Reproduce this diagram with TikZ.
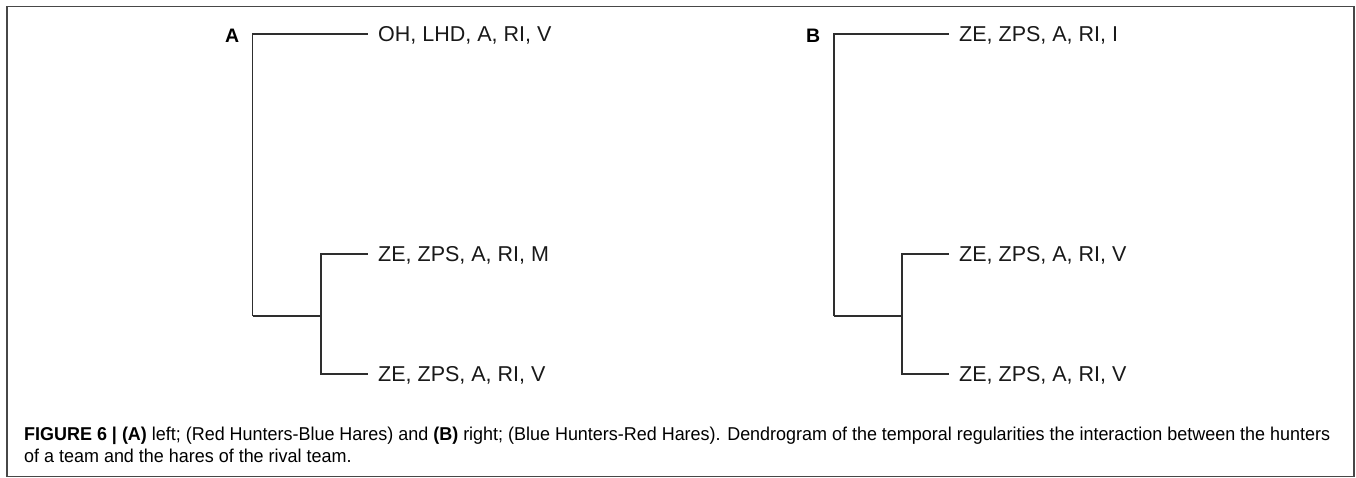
\documentclass[tikz,border=0pt]{standalone}
\usepackage{fontspec}
\setmainfont{Liberation Sans}
\newsavebox\capone
\newsavebox\captwo
\newlength\caponewd
\tikzset{
  frame/.style={draw=black!72, line width=1.6pt},
  branch/.style={draw=black!82, line width=1.5pt},
  leaf/.style={anchor=west, inner xsep=10pt, inner ysep=0pt, text height=15.4pt, text depth=0pt,
    font=\fontsize{21.5}{24}\selectfont, text=black!90},
  panel/.style={anchor=base west, inner sep=0pt, font=\fontsize{19.5}{22}\selectfont\bfseries},
  capline/.style={anchor=base west, inner sep=0pt, text=black!85}
}
\begin{document}
\sbox\capone{\fontsize{18.6}{22}\selectfont\textbf{FIGURE 6 | (A)} left; (Red Hunters-Blue Hares) and \textbf{(B)} right; (Blue Hunters-Red Hares). Dendrogram of the temporal regularities the interaction between the hunters}%
\sbox\captwo{\fontsize{18.6}{22}\selectfont of a team and the hares of the rival team.}%
\setlength\caponewd{\wd\capone}%
\pgfmathsetmacro\capsx{1306/\caponewd}%
\begin{tikzpicture}[x=1pt,y=-1pt]
\useasboundingbox (0,0) rectangle (1356,478);
\fill[white] (0,0) rectangle (1356,478);
\draw[frame] (7,6.5) rectangle (1354,476.5);

% Panel A
\node[panel] (labA) at (225,42.2) {A};
\node[leaf] (a1) at (368,34) {OH, LHD, A, RI, V};
\node[leaf] (a2) at (368,254) {ZE, ZPS, A, RI, M};
\node[leaf] (a3) at (368,374) {ZE, ZPS, A, RI, V};
\coordinate (rootA) at (252.5,316);
\coordinate (jA) at (321,316);
\draw[branch] (rootA) |- (a1.west);
\draw[branch] (rootA) -- (jA);
\draw[branch] (jA) |- (a2.west);
\draw[branch] (jA) |- (a3.west);

% Panel B
\node[panel] (labB) at (806,42.2) {B};
\node[leaf] (b1) at (949,34) {ZE, ZPS, A, RI, I};
\node[leaf] (b2) at (949,254) {ZE, ZPS, A, RI, V};
\node[leaf] (b3) at (949,374) {ZE, ZPS, A, RI, V};
\coordinate (rootB) at (834,316);
\coordinate (jB) at (902,316);
\draw[branch] (rootB) |- (b1.west);
\draw[branch] (rootB) -- (jB);
\draw[branch] (jB) |- (b2.west);
\draw[branch] (jB) |- (b3.west);

% Caption
\node[capline] (cap1) at (24,440) {\scalebox{\capsx}[1]{\usebox\capone}};
\node[capline] (cap2) at (24,462) {\scalebox{\capsx}[1]{\usebox\captwo}};
\end{tikzpicture}
\end{document}
